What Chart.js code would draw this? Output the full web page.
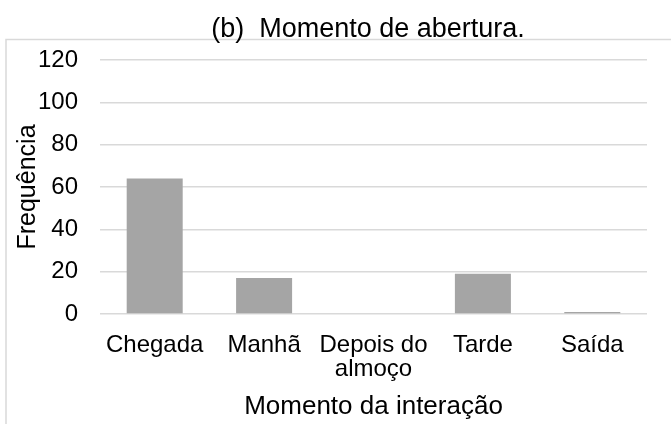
<!DOCTYPE html>
<html lang="pt">
<head>
    <meta charset="UTF-8">
    <title>Momento de abertura</title>
    <script src="https://cdn.jsdelivr.net/npm/chart.js"></script>
    <style>
        body { margin: 0; background: #fff; }
    </style>
</head>
<body>
    <canvas id="chart" width="671" height="424"></canvas>
    <script>
        const categories = ['Chegada', 'Manhã', ['Depois do', 'almoço'], 'Tarde', 'Saída'];
        const frequencies = [64, 17, 0, 19, 1];
        const yTicks = { min: 0, max: 120, step: 20 };

        const chartTitle = '(b)  Momento de abertura.';
        const xTitle = 'Momento da interação';
        const yTitle = 'Frequência';

        const font = 'Liberation Sans, Arial, sans-serif';
        const gridColor = '#d9d9d9';

        // frame round the chart plus the top title
        const framePlugin = {
            id: 'frame',
            beforeDraw(chart) {
                const ctx = chart.ctx;
                ctx.save();
                ctx.strokeStyle = gridColor;
                ctx.lineWidth = 1.5;
                ctx.strokeRect(6, 39.5, 900, 900);
                ctx.fillStyle = '#000';
                ctx.font = '27px ' + font;
                ctx.textAlign = 'center';
                ctx.textBaseline = 'alphabetic';
                ctx.fillText(chartTitle, 368, 37);
                ctx.restore();
            }
        };

        const ctx = document.getElementById('chart').getContext('2d');
        new Chart(ctx, {
            type: 'bar',
            data: {
                labels: categories,
                datasets: [{
                    data: frequencies,
                    backgroundColor: '#a5a5a5',
                    barPercentage: 0.512,
                    categoryPercentage: 1
                }]
            },
            options: {
                responsive: false,
                animation: false,
                devicePixelRatio: 1,
                layout: { padding: { top: 60, left: 6, right: 24, bottom: 0 } },
                plugins: {
                    legend: { display: false },
                    title: { display: false },
                    tooltip: { enabled: false }
                },
                scales: {
                    x: {
                        grid: { display: false },
                        border: { display: false },
                        ticks: {
                            color: '#000',
                            padding: 11,
                            maxRotation: 0,
                            autoSkip: false,
                            font: { family: font, size: 24, lineHeight: 1.0 }
                        },
                        title: {
                            display: true,
                            text: xTitle,
                            color: '#000',
                            padding: { top: 0, bottom: 2 },
                            font: { family: font, size: 26 }
                        },
                        afterFit(scale) { scale.height = 110; }
                    },
                    y: {
                        min: yTicks.min,
                        max: yTicks.max,
                        border: { display: false },
                        grid: { color: gridColor, lineWidth: 1.5, drawTicks: false },
                        ticks: {
                            stepSize: yTicks.step,
                            color: '#000',
                            padding: 22,
                            font: { family: font, size: 24 }
                        },
                        title: {
                            display: true,
                            text: yTitle,
                            color: '#000',
                            padding: { top: 7, bottom: 0 },
                            font: { family: font, size: 25 }
                        },
                        afterFit(scale) { scale.width = 94; }
                    }
                }
            },
            plugins: [framePlugin]
        });
    </script>
</body>
</html>
